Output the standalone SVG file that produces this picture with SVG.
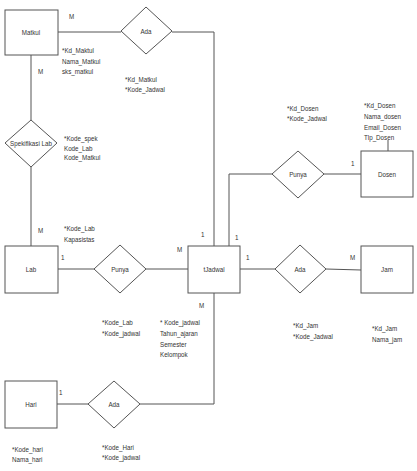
<svg xmlns="http://www.w3.org/2000/svg" width="417" height="471" viewBox="0 0 417 471">
<style>
.box{fill:#fff;stroke:#555;stroke-width:1}
.dia{fill:#fff;stroke:#555;stroke-width:1}
.ln{fill:none;stroke:#555;stroke-width:1}
text{font-family:"Liberation Sans",Arial,sans-serif;font-size:8px;fill:#333}
.c{text-anchor:middle}
</style>
<rect width="417" height="471" fill="#fff"/>
<g id="connectors">
<polyline class="ln" points="58,32 121,32"/>
<polyline class="ln" points="172,32 214,32 214,246"/>
<polyline class="ln" points="31,55 31,120"/>
<polyline class="ln" points="31,167 31,246"/>
<polyline class="ln" points="58,269 94,269"/>
<polyline class="ln" points="146,269 188,269"/>
<polyline class="ln" points="229,246 229,174 272,174"/>
<polyline class="ln" points="324,174 361,174"/>
<polyline class="ln" points="388,140 388,151"/>
<polyline class="ln" points="240,269 275,269"/>
<polyline class="ln" points="326,269 361,270"/>
<polyline class="ln" points="214,293 214,404 140,404"/>
<polyline class="ln" points="88,404 57,404"/>
</g>
<g id="matkul">
<rect class="box" x="5" y="10" width="53" height="45"/>
<text class="c" transform="translate(31,35) scale(0.78,1)">Matkul</text>
<text transform="translate(62,53) scale(0.78,1)">*Kd_Maktul</text>
<text transform="translate(62,64) scale(0.78,1)">Nama_Matkul</text>
<text transform="translate(62,74) scale(0.78,1)">sks_matkul</text>
</g>
<g id="ada-matkul">
<polygon class="dia" points="146,7 172,31 146,54 121,31"/>
<text class="c" transform="translate(146,34) scale(0.78,1)">Ada</text>
<text transform="translate(125,82) scale(0.78,1)">*Kd_Matkul</text>
<text transform="translate(125,92) scale(0.78,1)">*Kode_Jadwal</text>
</g>
<g id="spesifikasi-lab">
<polygon class="dia" points="31,120 57,143 31,167 5,143"/>
<text class="c" transform="translate(31,146) scale(0.78,1)">Spekifikasi Lab</text>
<text transform="translate(64,141) scale(0.78,1)">*Kode_spek</text>
<text transform="translate(64,151) scale(0.78,1)">Kode_Lab</text>
<text transform="translate(64,160) scale(0.78,1)">Kode_Matkul</text>
</g>
<g id="lab">
<rect class="box" x="5" y="246" width="53" height="47"/>
<text class="c" transform="translate(31,272) scale(0.78,1)">Lab</text>
<text transform="translate(64,231) scale(0.78,1)">*Kode_Lab</text>
<text transform="translate(64,242) scale(0.78,1)">Kapasistas</text>
</g>
<g id="punya-lab">
<polygon class="dia" points="120,245 146,269 120,293 94,269"/>
<text class="c" transform="translate(120,272) scale(0.78,1)">Punya</text>
<text transform="translate(102,325) scale(0.78,1)">*Kode_Lab</text>
<text transform="translate(102,336) scale(0.78,1)">*Kode_jadwal</text>
</g>
<g id="tjadwal">
<rect class="box" x="188" y="246" width="52" height="47"/>
<text class="c" transform="translate(214,272) scale(0.78,1)">tJadwal</text>
<text transform="translate(160,325) scale(0.78,1)">* Kode_jadwal</text>
<text transform="translate(160,336) scale(0.78,1)">Tahun_ajaran</text>
<text transform="translate(160,347) scale(0.78,1)">Semester</text>
<text transform="translate(160,357) scale(0.78,1)">Kelompok</text>
</g>
<g id="punya-dosen">
<polygon class="dia" points="298,151 324,174 298,198 272,174"/>
<text class="c" transform="translate(298,177) scale(0.78,1)">Punya</text>
<text transform="translate(287,111) scale(0.78,1)">*Kd_Dosen</text>
<text transform="translate(287,121) scale(0.78,1)">*Kode_Jadwal</text>
</g>
<g id="dosen">
<rect class="box" x="361" y="151" width="52" height="46"/>
<text class="c" transform="translate(387,177) scale(0.78,1)">Dosen</text>
<text transform="translate(364,108) scale(0.78,1)">*Kd_Dosen</text>
<text transform="translate(364,119) scale(0.78,1)">Nama_dosen</text>
<text transform="translate(364,130) scale(0.78,1)">Email_Dosen</text>
<text transform="translate(364,140) scale(0.78,1)">Tlp_Dosen</text>
</g>
<g id="ada-jam">
<polygon class="dia" points="300,245 326,269 300,293 275,269"/>
<text class="c" transform="translate(300,272) scale(0.78,1)">Ada</text>
<text transform="translate(293,328) scale(0.78,1)">*Kd_Jam</text>
<text transform="translate(293,339) scale(0.78,1)">*Kode_Jadwal</text>
</g>
<g id="jam">
<rect class="box" x="361" y="246" width="52" height="47"/>
<text class="c" transform="translate(387,272) scale(0.78,1)">Jam</text>
<text transform="translate(372,331) scale(0.78,1)">*Kd_Jam</text>
<text transform="translate(372,342) scale(0.78,1)">Nama_jam</text>
</g>
<g id="ada-hari">
<polygon class="dia" points="114,381 140,404 114,428 88,404"/>
<text class="c" transform="translate(114,407) scale(0.78,1)">Ada</text>
<text transform="translate(102,450) scale(0.78,1)">*Kode_Hari</text>
<text transform="translate(102,460) scale(0.78,1)">*Kode_jadwal</text>
</g>
<g id="hari">
<rect class="box" x="5" y="381" width="52" height="47"/>
<text class="c" transform="translate(31,407) scale(0.78,1)">Hari</text>
<text transform="translate(12,452) scale(0.78,1)">*Kode_hari</text>
<text transform="translate(12,462) scale(0.78,1)">Nama_hari</text>
</g>
<g id="cardinalities">
<text transform="translate(69,19) scale(0.78,1)">M</text>
<text transform="translate(38,74) scale(0.78,1)">M</text>
<text transform="translate(38,233) scale(0.78,1)">M</text>
<text transform="translate(61,260) scale(0.78,1)">1</text>
<text transform="translate(177,252) scale(0.78,1)">M</text>
<text transform="translate(201,237) scale(0.78,1)">1</text>
<text transform="translate(235,240) scale(0.78,1)">1</text>
<text transform="translate(199,308) scale(0.78,1)">M</text>
<text transform="translate(246,260) scale(0.78,1)">1</text>
<text transform="translate(350,260) scale(0.78,1)">M</text>
<text transform="translate(351,166) scale(0.78,1)">1</text>
<text transform="translate(59,395) scale(0.78,1)">1</text>
</g>
</svg>
